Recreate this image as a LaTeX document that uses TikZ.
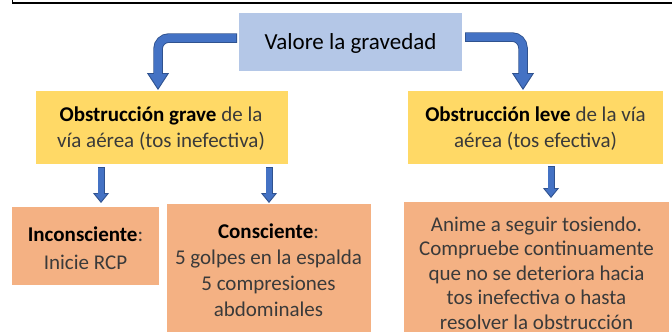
\documentclass[tikz,border=0pt]{standalone}
\usepackage{fontspec}
\setmainfont{Carlito}
\usetikzlibrary{arrows.meta}
\definecolor{topblue}{HTML}{B4C7E7}
\definecolor{boxyellow}{HTML}{FFD966}
\definecolor{boxorange}{HTML}{F4B183}
\definecolor{arrowfill}{HTML}{4472C4}
\definecolor{arrowline}{HTML}{2F528F}
\definecolor{txtgray}{HTML}{3A3A3A}
\newcommand\blockarrow[4]{%
  \draw[line width=#1, draw=arrowline,
        -{Triangle[width=#2,length=#3,line width=0.9pt,fill=arrowfill]}] #4;
  \draw[line width=#1-1.8pt, draw=arrowfill, shorten <=0.9pt, shorten >=#3-2.5pt] #4;
}
\begin{document}
\begin{tikzpicture}[x=1pt,y=-1pt,
  boxbase/.style={rectangle, inner sep=0pt, outer sep=0pt},
  topbox/.style={boxbase, fill=topblue},
  yelbox/.style={boxbase, fill=boxyellow},
  orabox/.style={boxbase, fill=boxorange},
  txt/.style={align=center, inner sep=0pt, text=txtgray, font=\fontsize{21}{26}\selectfont},
  bigarrow/.style={}]
\useasboundingbox (0,0) rectangle (672,332);
% frame remnant at top
\draw[line width=1.6pt, black] (12.5,0) |- (672,2.7);
% boxes
\node[topbox, minimum width=223pt, minimum height=58pt] (top) at (350.5,42) {};
\node[yelbox, minimum width=252pt, minimum height=73pt] (lyel) at (162,127.5) {};
\node[yelbox, minimum width=255pt, minimum height=73pt] (ryel) at (535.5,127.5) {};
\node[orabox, minimum width=147pt, minimum height=78pt] (incons) at (85.5,246) {};
\node[orabox, minimum width=204pt, minimum height=128pt] (cons) at (269,268) {};
\node[orabox, minimum width=265pt, minimum height=130pt] (anime) at (536.5,267) {};
% texts
\node[txt, text=black, font=\fontsize{23}{28}\selectfont] (topT) at (350.5,43) {Valore la gravedad};
\node[txt] (lyelT) at (161,129) {\textcolor{black}{\textbf{Obstrucción grave}} de la\\vía aérea (tos inefectiva)};
\node[txt] (ryelT) at (535.5,129) {\textcolor{black}{\textbf{Obstrucción leve}} de la vía\\aérea (tos efectiva)};
\node[txt, font=\fontsize{21}{28}\selectfont] (inconsT) at (85.5,248) {\textcolor{black}{\textbf{Inconsciente}}:\\Inicie RCP};
\node[txt] (consT) at (268.5,270) {\textcolor{black}{\textbf{Consciente}}:\\5 golpes en la espalda\\5 compresiones\\abdominales};
\node[txt, font=\fontsize{21}{24.5}\selectfont] (animeT) at (536.5,273) {Anime a seguir tosiendo.\\Compruebe continuamente\\que no se deteriora hacia\\tos inefectiva o hasta\\resolver la obstrucción};
% arrows
\blockarrow{9.5pt}{22pt}{17pt}{[rounded corners=11pt] ([xshift=-2pt,yshift=4pt]top.west) -| ([xshift=-4pt,yshift=1pt]lyel.north)}
\blockarrow{9.5pt}{22pt}{17pt}{[rounded corners=11pt] ([xshift=3pt,yshift=5pt]top.east) -| ([xshift=-12.5pt,yshift=1pt]ryel.north)}
\blockarrow{7pt}{16pt}{10pt}{([xshift=-61pt,yshift=-3pt]lyel.south) -- ([xshift=15.5pt,yshift=4pt]incons.north)}
\blockarrow{7pt}{16pt}{10pt}{([xshift=107pt,yshift=-3pt]lyel.south) -- ([yshift=1pt]cons.north)}
\blockarrow{7pt}{16pt}{10pt}{([xshift=15.5pt,yshift=-2pt]ryel.south) -- ([xshift=14.5pt,yshift=4pt]anime.north)}
\end{tikzpicture}
\end{document}
